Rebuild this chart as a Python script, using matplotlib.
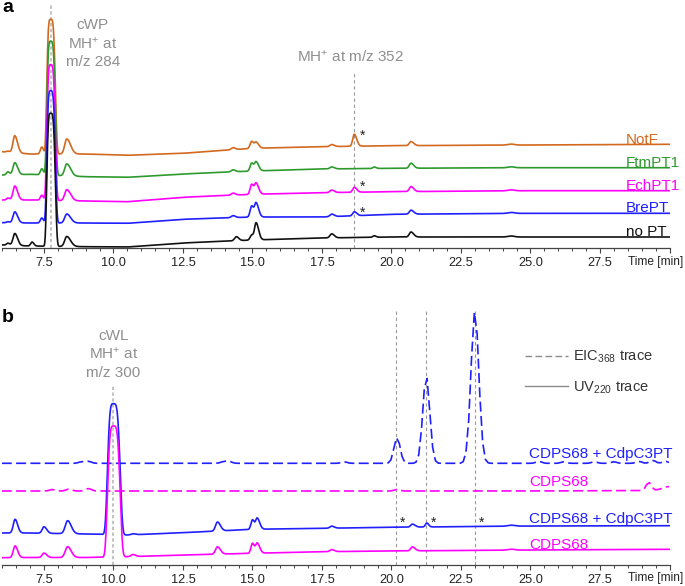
import numpy as np
import matplotlib
matplotlib.use("Agg")
import matplotlib.pyplot as plt
from matplotlib.lines import Line2D
from matplotlib.ticker import MultipleLocator

plt.rcParams['font.family'] = ['Liberation Sans', 'DejaVu Sans']
plt.rcParams['mathtext.fontset'] = 'custom'
plt.rcParams['mathtext.rm'] = 'Liberation Sans'
plt.rcParams['mathtext.it'] = 'Liberation Sans:italic'
plt.rcParams['mathtext.bf'] = 'Liberation Sans:bold'

# ---------------- data ----------------
x_ticks = [7.5, 10.0, 12.5, 15.0, 17.5, 20.0, 22.5, 25.0, 27.5, 30.0]
x_ticklabels = ['7.5', '10.0', '12.5', '15.0', '17.5', '20.0', '22.5', '25.0', '27.5', '']

base_times = [6.0, 7.0, 9.0, 10.5, 12.5, 15.0, 17.5, 20.0, 25.0, 30.0]

# panel a (offset chromatograms, arbitrary intensity units)
a_names = ['NotF', 'FtmPT1', 'EchPT1', 'BrePT', 'no PT']
a_colors = ['#D2691E', '#2E9A2E', '#FF00FF', '#1F1FFF', '#111111']
a_base_notf = [96.3, 94.0, 94.0, 92.7, 94.7, 99.7, 101.3, 102.3, 103.0, 103.7]
a_base_ftm = [73.0, 73.7, 71.3, 70.7, 74.0, 77.0, 79.0, 79.7, 80.3, 80.3]
a_base_ech = [48.0, 48.0, 47.0, 46.3, 50.7, 53.7, 55.3, 56.3, 57.3, 57.3]
a_base_bre = [25.3, 25.0, 25.0, 24.7, 28.7, 31.0, 31.0, 33.7, 34.7, 34.7]
a_base_nopt = [3.0, 2.0, 1.3, 1.0, 5.0, 8.0, 10.0, 11.0, 11.0, 11.0]

a_peak_times = [6.2, 6.45, 7.07, 7.42, 7.74, 8.32, 14.3, 14.42, 14.97, 15.13, 17.85, 18.66, 19.38, 20.7, 24.3]
a_peak_widths = [0.05, 0.065, 0.05, 0.05, 0.13, 0.075, 0.065, 0.065, 0.055, 0.055, 0.065, 0.055, 0.05, 0.06, 0.12]
a_peak_tails = [1.3, 1.5, 1.3, 1.2, 1.2, 1.8, 1.3, 1.3, 1.2, 1.6, 1.4, 1.6, 1.3, 1.6, 1.0]
a_peak_shapes = [2, 2, 2, 2, 4, 2, 2, 2, 2, 2, 2, 2, 2, 2, 2]
a_h_notf = [1.0, 17.0, 0.0, 7.0, 134.7, 15.0, 2.0, 0.0, 7.0, 6.0, 2.0, 12.0, 0.0, 4.0, 1.0]
a_h_ftm = [3.0, 12.0, 0.0, 6.0, 134.0, 12.0, 2.0, 0.0, 8.0, 9.0, 2.0, 0.0, 1.5, 5.0, 1.0]
a_h_ech = [2.0, 14.0, 0.0, 5.0, 135.7, 11.0, 2.0, 0.0, 10.0, 11.0, 2.5, 5.0, 0.0, 5.0, 1.0]
a_h_bre = [1.0, 11.0, 0.0, 5.0, 132.3, 9.0, 2.0, 0.0, 11.0, 14.0, 2.5, 4.0, 0.0, 4.0, 1.0]
a_h_nopt = [2.0, 12.0, 4.0, 0.0, 133.0, 10.0, 0.0, 4.0, 5.0, 17.0, 4.0, 0.0, 1.5, 5.0, 1.0]
a_ref_times = [7.74, 18.65]
a_star_time = 18.97

# panel b
b_names = ['CDPS68 + CdpC3PT', 'CDPS68', 'CDPS68 + CdpC3PT', 'CDPS68']
b_colors = ['#1F1FFF', '#FF00FF', '#1F1FFF', '#FF00FF']
b_base_eic_cdp = [101.7, 101.7, 101.7, 101.7, 101.7, 101.7, 101.7, 101.7, 101.7, 101.7]
b_base_eic_cdps = [74.0, 74.0, 74.0, 74.0, 74.0, 74.0, 74.0, 74.0, 74.0, 74.5]
b_base_uv_cdp = [32.0, 32.0, 31.0, 30.0, 32.3, 35.7, 36.7, 37.7, 39.0, 39.3]
b_base_uv_cdps = [7.3, 7.5, 7.5, 8.3, 10.0, 11.7, 13.3, 14.0, 15.0, 15.7]

b_eic_cdp_times = [8.85, 9.1, 13.95, 14.15, 18.3, 20.2, 21.25, 23.0, 25.3, 26.2, 27.3, 28.0, 28.9, 29.4, 29.85]
b_eic_cdp_heights = [1.5, 2.0, 1.5, 2.0, 1.5, 26.0, 87.3, 152.6, 2.0, 1.5, 1.5, 1.5, 2.0, 3.0, 2.0]
b_eic_cdp_widths = [0.1, 0.1, 0.1, 0.1, 0.1, 0.11, 0.125, 0.14, 0.1, 0.1, 0.1, 0.1, 0.1, 0.1, 0.1]
b_eic_cdps_times = [7.8, 8.4, 9.1, 20.2, 29.25, 30.0]
b_eic_cdps_heights = [1.5, 2.0, 2.5, 1.5, 8.3, 4.0]
b_eic_cdps_widths = [0.1, 0.1, 0.1, 0.1, 0.09, 0.25]

b_uv_times = [6.46, 7.5, 8.35, 10.0, 10.7, 13.74, 15.0, 15.17, 17.85, 20.75, 21.27, 24.3]
b_uv_widths = [0.065, 0.065, 0.085, 0.2, 0.07, 0.07, 0.055, 0.055, 0.065, 0.06, 0.05, 0.12]
b_uv_tails = [1.4, 1.5, 1.5, 1.1, 1.3, 1.5, 1.2, 1.6, 1.4, 1.6, 1.3, 1.0]
b_uv_shapes = [2, 2, 2, 4, 2, 2, 2, 2, 2, 2, 2, 2]
b_h_uv_cdp = [13.7, 6.5, 13.0, 131.0, 1.0, 9.0, 9.5, 11.0, 2.0, 3.0, 4.0, 1.0]
b_h_uv_cdps = [11.7, 4.4, 10.8, 131.0, 2.0, 7.3, 10.0, 10.0, 2.0, 4.0, 0.0, 1.0]
b_ref_times = [10.0, 20.16, 21.24, 23.0]
b_star_times = [20.4, 21.5, 23.24]

# ---------------- helpers ----------------
XMIN, XMAX = 5.98, 30.0


def chrom(t, bt, bv, pt, ph, pw, tails=None, shapes=None):
    y = np.interp(t, bt, bv)
    n = len(pt)
    tails = tails if tails is not None else [1.0] * n
    shapes = shapes if shapes is not None else [2] * n
    for c, h, w, tl, p in zip(pt, ph, pw, tails, shapes):
        s = np.where(t < c, w, w * tl)
        y = y + h * np.exp(-0.5 * np.abs((t - c) / s) ** p)
    return y


def style_axis(ax):
    for s in ['top', 'right', 'left']:
        ax.spines[s].set_visible(False)
    ax.spines['bottom'].set_color('#444444')
    ax.spines['bottom'].set_linewidth(0.9)
    ax.set_yticks([])
    ax.set_xlim(XMIN, XMAX)
    ax.set_xticks(x_ticks)
    ax.set_xticklabels(x_ticklabels)
    ax.xaxis.set_minor_locator(MultipleLocator(0.5))
    ax.tick_params(axis='x', which='major', direction='out', length=3.3, width=0.8,
                   color='#444444', labelsize=9.2, labelcolor='#222222', pad=3)
    ax.tick_params(axis='x', which='minor', direction='out', length=2, width=0.7,
                   color='#444444')
    ax.patch.set_alpha(0)
    ax.annotate('Time [min]', xy=(28.5, 0), xycoords=('data', 'axes fraction'),
                xytext=(0, -5.4), textcoords='offset points', ha='left', va='top',
                fontsize=8.6, color='#222222', annotation_clip=False)


W, H = 685, 586
fig = plt.figure(figsize=(W / 100, H / 100), dpi=100)

left_px = 1.74
right_px = 669.5
# panel a: axis at y=248 px, top at 0
axa = fig.add_axes([left_px / W, (H - 248) / H, (right_px - left_px) / W, 248 / H])
axa.set_ylim(0, 248)
# panel b: axis at y=565 px, top at 295
axb = fig.add_axes([left_px / W, (H - 565) / H, (right_px - left_px) / W, 270 / H])
axb.set_ylim(0, 270)
style_axis(axa)
style_axis(axb)

t = np.linspace(XMIN, XMAX, 3000)
gray_txt = '#8f8f8f'
LW = 1.2

# ---- panel a ----
axa.plot([a_ref_times[0]] * 2, [0, 245], color='#b8b8b8', lw=1.2, ls=(0, (2, 1.5)), zorder=1)
axa.plot([a_ref_times[1]] * 2, [0, 176], color='#9a9a9a', lw=0.8, ls=(0, (3, 2.5)), zorder=1)

a_bases = [a_base_notf, a_base_ftm, a_base_ech, a_base_bre, a_base_nopt]
a_heights = [a_h_notf, a_h_ftm, a_h_ech, a_h_bre, a_h_nopt]
a_label_y = [104.5, 81.0, 58.0, 35.5, 12.0]
for name, col, bv, hv, ly in zip(a_names, a_colors, a_bases, a_heights, a_label_y):
    y = chrom(t, base_times, bv, a_peak_times, hv, a_peak_widths, a_peak_tails, a_peak_shapes)
    axa.plot(t, y, color=col, lw=LW, zorder=3)
    axa.text(28.44, ly, name, color=col, fontsize=11, ha='left', va='baseline', zorder=4)

for sy in [108.6, 56.9, 31.6]:
    axa.text(a_star_time, sy, '*', fontsize=10, ha='center', va='baseline', color='#222222')

for txt, yy in [('cWP', 218.7), ('MH$^{+}$ at', 199.7), ('m/z 284', 182.3)]:
    axa.text(9.26, yy, txt, color=gray_txt, fontsize=11, ha='center', va='baseline')
axa.text(18.53, 186.3, 'MH$^{+}$ at m/z 352', color=gray_txt, fontsize=11, ha='center', va='baseline')

fig.text(2 / W, 1 - 12 / H, 'a', fontsize=14, fontweight='bold', ha='left', va='baseline')
fig.text(2 / W, 1 - 322 / H, 'b', fontsize=14, fontweight='bold', ha='left', va='baseline')

# ---- panel b ----
axb.plot([b_ref_times[0]] * 2, [0, 180], color='#b8b8b8', lw=1.2, ls=(0, (2, 1.5)), zorder=1)
for rt in b_ref_times[1:]:
    axb.plot([rt, rt], [0, 255], color='#9a9a9a', lw=0.8, ls=(0, (3, 2.5)), zorder=1)

te = np.arange(XMIN, XMAX + 0.001, 0.1)
dash = (0, (6.0, 2.6))
y1 = chrom(te, base_times, b_base_eic_cdp, b_eic_cdp_times, b_eic_cdp_heights, b_eic_cdp_widths)
axb.plot(te, y1, color=b_colors[0], lw=LW, ls=dash, zorder=3)
y2 = chrom(te, base_times, b_base_eic_cdps, b_eic_cdps_times, b_eic_cdps_heights, b_eic_cdps_widths)
axb.plot(te, y2, color=b_colors[1], lw=LW, ls=dash, zorder=3)
y3 = chrom(t, base_times, b_base_uv_cdp, b_uv_times, b_h_uv_cdp, b_uv_widths, b_uv_tails, b_uv_shapes)
axb.plot(t, y3, color=b_colors[2], lw=LW, zorder=3)
y4 = chrom(t, base_times, b_base_uv_cdps, b_uv_times, b_h_uv_cdps, b_uv_widths, b_uv_tails, b_uv_shapes)
axb.plot(t, y4, color=b_colors[3], lw=LW, zorder=3)

for name, col, ly in zip(b_names, b_colors, [107.3, 78.7, 42.3, 15.7]):
    axb.text(24.95, ly, name, color=col, fontsize=11, ha='left', va='baseline', zorder=4)

for st in b_star_times:
    axb.text(st, 37.9, '*', fontsize=10, ha='center', va='baseline', color='#222222')

for txt, yy in [('cWL', 225.0), ('MH$^{+}$ at', 206.7), ('m/z 300', 187.7)]:
    axb.text(9.99, yy, txt, color=gray_txt, fontsize=11, ha='center', va='baseline')

handles = [Line2D([], [], color='#8a8a8a', lw=1.0, ls=(0, (4.8, 2.4))),
           Line2D([], [], color='#8a8a8a', lw=1.0)]
leg = axb.legend(handles, ['EIC$_{\\mathregular{368}}$ trace', 'UV$_{\\mathregular{220}}$ trace'],
                 loc='upper left', bbox_to_anchor=((525 - left_px) / (right_px - left_px), (565 - 349) / 270),
                 frameon=False, fontsize=10.5, handlelength=2.95, handletextpad=0.35,
                 borderpad=0, borderaxespad=0, labelspacing=0.95, labelcolor='#333333')

fig.savefig('out.png', dpi=100)
